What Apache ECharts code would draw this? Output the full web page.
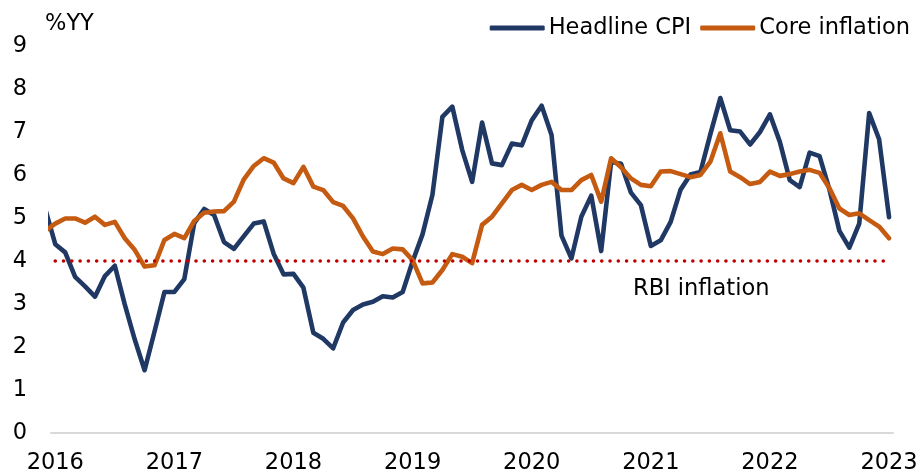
<!DOCTYPE html>
<html>
<head>
<meta charset="utf-8">
<script src="https://cdn.jsdelivr.net/npm/echarts@6/dist/echarts.min.js"></script>
<style>
html,body{margin:0;padding:0;background:#fff;}
#chart{width:924px;height:475px;}
</style>
</head>
<body>
<div id="chart"></div>
<script>
// Monthly observations; month index 0 = first labelled tick ("2016"), index -1 is the clipped lead-in point
const firstMonth = -1;
const yearLabels = ['2016','2017','2018','2019','2020','2021','2022','2023'];
const yTicks = [0,1,2,3,4,5,6,7,8,9];

const headlineCPI = [
  5.2,
  4.39, 4.20, 3.63, 3.41, 3.17, 3.65, 3.89, 2.99, 2.18, 1.46, 2.36, 3.28,
  3.28, 3.58, 4.88, 5.21, 5.07, 4.44, 4.28, 4.58, 4.87, 4.92, 4.17, 3.69,
  3.70, 3.38, 2.33, 2.19, 1.97, 2.57, 2.86, 2.99, 3.05, 3.18, 3.15, 3.28,
  3.99, 4.62, 5.54, 7.35, 7.59, 6.58, 5.84, 7.22, 6.27, 6.23, 6.73, 6.69,
  7.27, 7.61, 6.93, 4.59, 4.06, 5.03, 5.52, 4.23, 6.30, 6.26, 5.59, 5.30,
  4.35, 4.48, 4.91, 5.66, 6.01, 6.07, 6.95, 7.79, 7.04, 7.01, 6.71, 7.00,
  7.41, 6.77, 5.88, 5.72, 6.52, 6.44, 5.66, 4.70, 4.31, 4.87, 7.44, 6.83,
  5.02
];

const coreInflation = [
  4.70,
  4.87, 4.99, 4.99, 4.89, 5.03, 4.84, 4.91, 4.53, 4.26, 3.87, 3.90, 4.49,
  4.63, 4.53, 4.93, 5.12, 5.15, 5.16, 5.38, 5.90, 6.21, 6.39, 6.29, 5.92,
  5.81, 6.19, 5.73, 5.65, 5.37, 5.28, 4.99, 4.57, 4.22, 4.16, 4.29, 4.27,
  4.02, 3.48, 3.50, 3.79, 4.16, 4.10, 3.95, 4.84, 5.03, 5.34, 5.65, 5.77,
  5.65, 5.77, 5.84, 5.65, 5.65, 5.88, 6.00, 5.38, 6.39, 6.18, 5.92, 5.77,
  5.74, 6.08, 6.09, 6.02, 5.95, 6.00, 6.31, 6.97, 6.08, 5.95, 5.79, 5.84,
  6.08, 5.98, 6.02, 6.08, 6.12, 6.05, 5.69, 5.22, 5.07, 5.11, 4.95, 4.80,
  4.53
];

const rbiTarget = 4;
const rbiFromMonth = 0;
const rbiToMonth = 84;

const FONT = 'DejaVu Sans';
const FS = 22.5;

const toPairs = arr => arr.map((v, i) => [i + firstMonth, v]);
const yearTickValues = yearLabels.map((_, k) => k * 12);

const chart = echarts.init(document.getElementById('chart'), null, {renderer: 'canvas'});
chart.setOption({
  animation: false,
  backgroundColor: '#ffffff',
  textStyle: {fontFamily: FONT},
  grid: {left: 51, right: 31, top: 46, bottom: 42, containLabel: false},
  legend: {
    data: ['Headline CPI', 'Core inflation'],
    right: 9,
    top: 10,
    icon: 'roundRect',
    itemWidth: 55,
    itemHeight: 5,
    itemGap: 9,
    textStyle: {fontFamily: FONT, fontSize: FS, color: '#000', lineHeight: 26, padding: [0, 0, 0, -1]}
  },
  graphic: [
    {type: 'text', x: 45, y: 24, style: {text: '%YY', fontFamily: FONT, fontSize: FS, fill: '#000', verticalAlign: 'middle', align: 'left'}},
    {type: 'text', x: 633, y: 289, style: {text: 'RBI inflation', fontFamily: FONT, fontSize: FS, fill: '#000', verticalAlign: 'middle', align: 'left'}}
  ],
  xAxis: {
    type: 'value',
    min: -0.43,
    max: 84.4,
    axisLine: {show: true, lineStyle: {color: '#D9D9D9', width: 2}},
    axisTick: {show: false},
    splitLine: {show: false},
    axisLabel: {
      customValues: yearTickValues,
      formatter: v => yearLabels[Math.round(v / 12)],
      fontFamily: FONT, fontSize: FS, color: '#000', margin: 19
    }
  },
  yAxis: {
    type: 'value',
    min: yTicks[0],
    max: yTicks[yTicks.length - 1],
    interval: 1,
    axisLine: {show: false},
    axisTick: {show: false},
    splitLine: {show: false},
    axisLabel: {fontFamily: FONT, fontSize: FS, color: '#000', margin: 24}
  },
  series: [
    {
      name: 'Headline CPI', type: 'line', data: toPairs(headlineCPI),
      symbol: 'none', clip: true,
      lineStyle: {color: '#1F3864', width: 4.6, cap: 'round', join: 'round'},
      itemStyle: {color: '#1F3864'}
    },
    {
      name: 'Core inflation', type: 'line', data: toPairs(coreInflation),
      symbol: 'none', clip: true,
      lineStyle: {color: '#C55A11', width: 4.6, cap: 'round', join: 'round'},
      itemStyle: {color: '#C55A11'}
    },
    {
      name: 'RBI inflation', type: 'line',
      data: [[rbiFromMonth, rbiTarget], [rbiToMonth, rbiTarget]],
      symbol: 'none', silent: true,
      lineStyle: {color: '#C00000', width: 3.6, type: [0.01, 8.27], cap: 'round'}
    }
  ]
});
</script>
</body>
</html>
